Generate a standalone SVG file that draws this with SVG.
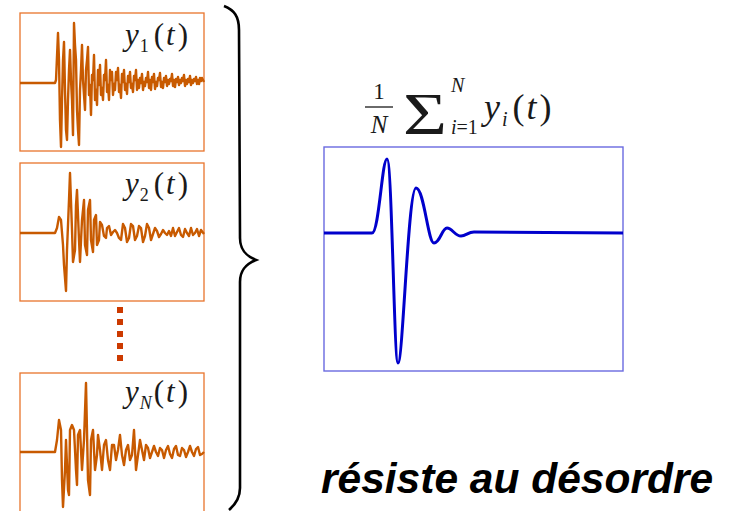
<svg xmlns="http://www.w3.org/2000/svg" width="734" height="511" viewBox="0 0 734 511">
<style>
.obox{fill:none;stroke:#e8742c;stroke-width:1.3}
.wave{fill:none;stroke:#c85a00;stroke-width:2.4;stroke-linejoin:round}
.m{font-family:"Liberation Serif","DejaVu Serif",serif;fill:#1a1a1a}
.it{font-style:italic}
.big{font-family:"Liberation Sans",Arial,sans-serif;font-weight:bold;font-style:italic;font-size:42.5px;fill:#000}
</style>
<rect width="734" height="511" fill="#fff"/>
<g id="signal1">
<rect class="obox" x="20" y="13" width="184" height="138"/>
<polyline class="wave" points="20,83 55,83 56,80 58,33 59,60 60,120 61,147 62,100 63,60 64,42 65,90 66,130 67,140 68,100 69,70 70,50 71,80 72,100 73,135 74,23 75,45 76,60 77,110 78,130 79,145 80,90 81,70 82,45 83,80 84,95 85,110 86,70 87,60 88,47 89,95 90,85 91,115 92,75 93,80 94,55 95,100 96,90 97,105 98,70 99,85 100,65 101,95 102,88 103,100 104,75 105,80 106,60 107,92 108,85 109,100 110,70 111,80 112,72 113,95 114,84 115,90 116,72 117,80 118,68 119,92 120,85 121,98 122,74 123,82 124,70 125,90 126,84 127,94 128,76 129,82 130,72 131,88 132,84 133,92 134,76 135,80 136,70 137,90 138,80 139,88 140,78 141,83 142,74 143,90 144,82 145,86 146,78 147,82 148,72 149,88 150,80 151,90 152,77 153,82 154,74 155,89 156,82 157,86 158,78 159,80 160,73 161,87 162,82 163,88 164,78 165,82 166,76 167,86 168,80 169,84 170,79 171,81 172,74 173,86 174,80 175,87 176,79 177,82 178,77 179,85 180,80 181,83 182,78 183,81 184,75 185,86 186,80 187,84 188,79 189,82 190,76 191,85 192,80 193,83 194,79 195,81 196,77 197,84 198,80 199,84 200,78 201,81 202,78 204,82"/>
<text class="m" x="125" y="45" font-size="31"><tspan class="it">y</tspan><tspan font-size="18" dy="7" dx="1">1</tspan><tspan dy="-7" dx="5">(</tspan><tspan class="it" dx="2">t</tspan><tspan dx="3">)</tspan></text>
</g>
<g id="signal2">
<rect class="obox" x="20" y="163" width="184" height="138"/>
<polyline class="wave" points="20,233 55,233 57,228 59,217 61,220 63,245 64,265 66,291 67,250 69,200 70,173 72,230 73,262 75,250 76,205 77,190 79,240 80,262 82,220 84,200 85,245 87,255 88,210 90,200 91,240 93,252 94,220 96,215 97,245 99,240 100,222 102,225 104,236 106,238 107,228 109,226 111,235 113,232 115,230 117,233 119,238 121,240 123,224 125,228 127,242 129,238 131,224 133,226 135,240 137,236 139,226 141,228 143,242 145,236 147,224 149,228 151,240 153,234 155,228 157,231 159,237 161,234 163,230 165,233 167,235 169,231 171,236 173,228 175,236 177,232 179,228 181,235 183,237 185,229 187,233 189,236 191,228 193,235 195,233 197,229 199,236 201,230 204,234"/>
<text class="m" x="125" y="194" font-size="31"><tspan class="it">y</tspan><tspan font-size="18" dy="7" dx="1">2</tspan><tspan dy="-7" dx="5">(</tspan><tspan class="it" dx="2">t</tspan><tspan dx="3">)</tspan></text>
</g>
<g id="dots">
<line x1="120" y1="307" x2="120" y2="361" stroke="#cc3a00" stroke-width="6" stroke-dasharray="6,6"/>
</g>
<g id="signalN">
<rect class="obox" x="20" y="373" width="184" height="160"/>
<polyline class="wave" points="20,452 55,452 57,440 59,420 61,430 62,480 63,507 65,470 66,440 68,490 69,495 70,430 72,425 74,430 76,470 77,485 78,435 80,430 82,470 84,440 86,383 88,480 90,495 91,440 93,430 95,470 97,455 98,435 100,450 102,470 104,445 106,440 108,460 110,470 112,445 114,445 116,460 118,450 120,435 122,455 124,465 126,450 128,445 130,460 132,455 134,430 136,470 138,455 140,440 142,450 144,460 146,445 148,448 150,458 152,452 154,446 156,452 158,456 160,448 162,450 164,458 166,450 168,446 170,454 172,458 174,449 176,446 178,455 180,456 182,448 184,450 186,457 188,452 190,446 192,452 194,456 196,449 198,447 200,455 202,454 204,452"/>
<text class="m" x="125" y="402" font-size="31"><tspan class="it">y</tspan><tspan class="it" font-size="18" dy="7" dx="1">N</tspan><tspan dy="-7" dx="2">(</tspan><tspan class="it" dx="2">t</tspan><tspan dx="3">)</tspan></text>
</g>
<g id="brace">
<path d="M224,6 C234,10 239,16 239,30 L240,238 C240,250 246,256 256,260 C246,264 240,270 240,282 L240,488 C240,498 236,504 229,510" fill="none" stroke="#000" stroke-width="2.6"/>
</g>
<g id="formula">
<text class="m" x="379" y="99" font-size="23" text-anchor="middle">1</text>
<line x1="365" y1="107" x2="393" y2="107" stroke="#1a1a1a" stroke-width="1.3"/>
<text class="m it" x="379" y="133" font-size="25" text-anchor="middle">N</text>
<text class="m" x="403" y="134" font-size="60" textLength="44" lengthAdjust="spacingAndGlyphs">Σ</text>
<text class="m it" x="451" y="92" font-size="20">N</text>
<text class="m" x="451" y="134" font-size="20"><tspan class="it">i</tspan>=1</text>
<text class="m" x="484" y="119" font-size="36"><tspan class="it">y</tspan><tspan class="it" font-size="20" dy="7" dx="2">i</tspan><tspan dy="-7" dx="5">(</tspan><tspan class="it" dx="2">t</tspan><tspan dx="3">)</tspan></text>
</g>
<g id="average">
<rect x="324" y="147" width="299" height="224" fill="none" stroke="#6a6ae0" stroke-width="1.4"/>
<path d="M324,233 L372,233 C379,233 382,159 387,159 C392,159 394,363 398,363 C403,363 408,188 416,188 C424,188 428,243 434,243 C440,243 442,228 447,228 C452,228 455,236 461,236 C466,236 468,232 474,232 L623,233" fill="none" stroke="#0000cc" stroke-width="3"/>
</g>
<g id="caption">
<text class="big" x="321" y="493">résiste au désordre</text>
</g>
</svg>
